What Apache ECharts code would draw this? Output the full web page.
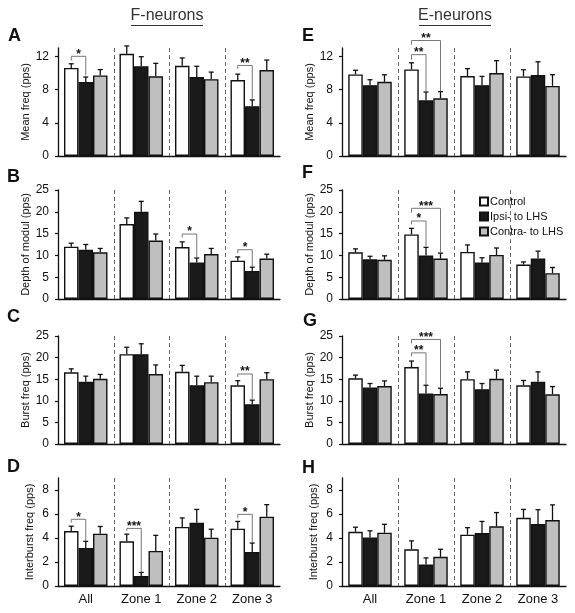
<!DOCTYPE html>
<html><head><meta charset="utf-8">
<script src="https://cdn.jsdelivr.net/npm/echarts@6/dist/echarts.min.js"></script>
<style>html,body{margin:0;padding:0;background:#fff}#c{width:575px;height:613px}</style>
</head><body><div id="c"></div>
<script>
// ---- data ----
const categories = ['All', 'Zone 1', 'Zone 2', 'Zone 3'];
const groupNames = ['Control', 'Ipsi- to LHS', 'Contra- to LHS'];
const yTicksMean = [0, 4, 8, 12];
const yTicks25 = [0, 5, 10, 15, 20, 25];
const yTicksInter = [0, 2, 4, 6, 8];

// F-neurons
const fMean     = [[10.6, 12.3, 10.85, 9.15], [8.9, 10.8, 9.5, 6.0], [9.7, 9.6, 9.25, 10.35]];
const fMeanSem  = [[0.5, 0.95, 0.95, 0.7], [0.6, 1.15, 1.3, 0.75], [0.7, 1.55, 0.85, 1.2]];
const fDepth    = [[12.0, 17.2, 11.9, 8.8], [11.3, 20.0, 8.4, 6.45], [10.7, 13.4, 10.3, 9.27]];
const fDepthSem = [[0.8, 1.4, 1.2, 0.85], [1.2, 2.4, 1.0, 0.85], [0.9, 1.5, 1.3, 1.0]];
const fBurst    = [[16.6, 20.8, 16.7, 13.6], [14.4, 20.8, 13.6, 9.2], [15.1, 16.2, 14.3, 15.0]];
const fBurstSem = [[0.8, 1.6, 1.5, 1.05], [1.3, 2.4, 2.1, 0.95], [1.0, 2.1, 1.4, 1.5]];
const fInter    = [[4.58, 3.72, 4.92, 4.78], [3.17, 0.83, 5.28, 2.83], [4.36, 2.92, 4.03, 5.78]];
const fInterSem = [[0.4, 0.6, 0.75, 0.6], [0.55, 0.3, 1.1, 0.75], [0.6, 1.3, 0.7, 1.0]];
// E-neurons
const eMean     = [[9.82, 10.42, 9.62, 9.58], [8.53, 6.7, 8.53, 9.74], [8.93, 6.95, 9.98, 8.44]];
const eMeanSem  = [[0.5, 0.8, 0.9, 0.8], [0.65, 1.0, 1.05, 1.6], [0.85, 0.8, 1.5, 1.35]];
const eDepth    = [[10.7, 14.8, 10.8, 7.9], [9.1, 9.95, 8.36, 9.27], [9.0, 9.27, 10.1, 5.93]];
const eDepthSem = [[0.8, 1.4, 1.6, 0.6], [0.7, 1.9, 1.1, 1.7], [0.9, 1.25, 1.6, 1.3]];
const eBurst    = [[15.2, 17.8, 15.0, 13.6], [13.1, 11.7, 12.7, 14.4], [13.4, 11.55, 15.1, 11.5]];
const eBurstSem = [[0.75, 1.4, 1.7, 1.1], [0.9, 1.9, 1.3, 2.3], [1.2, 1.35, 2.0, 1.8]];
const eInter    = [[4.52, 3.06, 4.28, 5.68], [4.05, 1.79, 4.41, 5.16], [4.44, 2.43, 4.97, 5.49]];
const eInterSem = [[0.38, 0.7, 0.58, 0.7], [0.55, 0.55, 0.97, 1.2], [0.7, 0.63, 1.15, 1.27]];

// significance brackets: [category, fromGroup, toGroup, bracketLevel, leftLegEnd, rightLegEnd]
const sigA = [[0, 0, 1, 12.0, 11.5, 9.7], [3, 0, 1, 10.9, 10.5, 6.9]];
const starsA = ['*', '**'];
const sigB = [[2, 0, 1, 14.9, 14.1, 9.6], [3, 0, 1, 11.3, 10.5, 7.5]];
const starsB = ['*', '*'];
const sigC = [[3, 0, 1, 16.2, 15.5, 10.3]];
const starsC = ['**'];
const sigD = [[0, 0, 1, 5.56, 5.28, 3.78], [1, 0, 1, 4.8, 4.58, 1.14], [3, 0, 1, 5.97, 5.64, 3.64]];
const starsD = ['*', '***', '*'];
const sigE = [[1, 0, 1, 12.2, 11.6, 7.8], [1, 0, 2, 13.9, 13.4, 7.8]];
const starsE = ['**', '**'];
const sigF = [[1, 0, 1, 17.9, 17.1, 12.1], [1, 0, 2, 20.8, 19.8, 10.7]];
const starsF = ['*', '***'];
const sigG = [[1, 0, 1, 21.1, 20.3, 13.7], [1, 0, 2, 24.2, 23.3, 13.1]];
const starsG = ['**', '***'];
const sigH = [];
const starsH = [];

// ---- layout ----
const FONT = '"Liberation Sans", Arial, Helvetica, sans-serif';
const BAR_W = 14.5;
const fills = ['#ffffff', '#1a1a1a', '#bfbfbf'];
const panels = [
  {L:'A', g:{left:58, top:48, width:222, height:108}, max:13, ticks:yTicksMean, name:'Mean freq (pps)', v:fMean, s:fMeanSem, sig:sigA, st:starsA, xl:false, lx:8, ly:37},
  {L:'B', g:{left:58, top:190, width:222, height:109}, max:25, ticks:yTicks25, name:'Depth of modul (pps)', v:fDepth, s:fDepthSem, sig:sigB, st:starsB, xl:false, lx:7, ly:178},
  {L:'C', g:{left:58, top:336, width:222, height:108}, max:25, ticks:yTicks25, name:'Burst freq (pps)', v:fBurst, s:fBurstSem, sig:sigC, st:starsC, xl:false, lx:7, ly:318},
  {L:'D', g:{left:58, top:478, width:222, height:108}, max:9, ticks:yTicksInter, name:'Interburst freq (pps)', v:fInter, s:fInterSem, sig:sigD, st:starsD, xl:true, lx:7, ly:468},
  {L:'E', g:{left:342, top:48, width:224, height:108}, max:13, ticks:yTicksMean, name:'Mean freq (pps)', v:eMean, s:eMeanSem, sig:sigE, st:starsE, xl:false, lx:302, ly:37},
  {L:'F', g:{left:342, top:190, width:224, height:109}, max:25, ticks:yTicks25, name:'Depth of modul (pps)', v:eDepth, s:eDepthSem, sig:sigF, st:starsF, xl:false, lx:302, ly:174},
  {L:'G', g:{left:342, top:336, width:224, height:108}, max:25, ticks:yTicks25, name:'Burst freq (pps)', v:eBurst, s:eBurstSem, sig:sigG, st:starsG, xl:false, lx:303, ly:322},
  {L:'H', g:{left:342, top:478, width:224, height:108}, max:9, ticks:yTicksInter, name:'Interburst freq (pps)', v:eInter, s:eInterSem, sig:sigH, st:starsH, xl:true, lx:302, ly:469}
];

const grid = [], xAxis = [], yAxis = [], series = [], graphic = [];
panels.forEach((p, i) => {
  grid.push(Object.assign({containLabel:false}, p.g));
  xAxis.push({
    type:'category', gridIndex:i, data:categories, boundaryGap:true,
    axisLine:{lineStyle:{color:'#111', width:1.3}},
    axisTick:{show:false},
    axisLabel:{show:p.xl, color:'#111', fontSize:13, fontFamily:FONT, margin:7},
    splitLine:{show:false}
  });
  yAxis.push({
    type:'value', gridIndex:i, min:0, max:p.max,
    name:p.name, nameLocation:'middle', nameGap:23,
    nameTextStyle:{color:'#111', fontSize:11, fontFamily:FONT},
    axisLine:{show:true, lineStyle:{color:'#111', width:1.3}},
    axisTick:{show:true, length:3, customValues:p.ticks, lineStyle:{color:'#111', width:1.2}},
    axisLabel:{color:'#111', fontSize:12, fontFamily:FONT, margin:9, customValues:p.ticks},
    splitLine:{show:false}
  });
  // bars
  for (let k = 0; k < 3; k++) {
    series.push({
      type:'bar', name:groupNames[k], xAxisIndex:i, yAxisIndex:i,
      data:p.v[k], barWidth:BAR_W, barGap:'0%',
      itemStyle:{color:fills[k], borderColor:'#111', borderWidth:1.4},
      emphasis:{disabled:true}, silent:true, z:2
    });
  }
  // error bars + group separators
  const ed = [];
  for (let k = 0; k < 3; k++) for (let c = 0; c < categories.length; c++) ed.push([c, k, p.v[k][c], p.s[k][c]]);
  series.push({
    type:'custom', xAxisIndex:i, yAxisIndex:i, data:ed, encode:{x:0, y:2}, silent:true, z:3, clip:false,
    renderItem:(params, api) => {
      const c = api.value(0), k = api.value(1), m = api.value(2), e = api.value(3);
      const b = api.coord([c, m]), t = api.coord([c, m + e]);
      const x = b[0] + (k - 1) * BAR_W;
      const ch = [
        {type:'line', shape:{x1:x, y1:b[1], x2:x, y2:t[1]}, style:{stroke:'#111', lineWidth:1.3}},
        {type:'line', shape:{x1:x - 2.5, y1:t[1], x2:x + 2.5, y2:t[1]}, style:{stroke:'#111', lineWidth:1.3}}
      ];
      if (k === 0 && c > 0) {
        const cs = params.coordSys;
        const bx = Math.round(b[0] - api.size([1, 0])[0] / 2) + 0.5;
        ch.push({type:'line', shape:{x1:bx, y1:cs.y, x2:bx, y2:cs.y + cs.height}, style:{stroke:'#666', lineWidth:1, lineDash:[4, 3]}});
      }
      return {type:'group', children:ch};
    }
  });
  // significance brackets
  if (p.sig.length) {
    const stars = p.st;
    series.push({
      type:'custom', xAxisIndex:i, yAxisIndex:i, data:p.sig, encode:{x:0, y:3}, silent:true, z:4, clip:false,
      renderItem:(params, api) => {
        const c = api.value(0), a = api.value(1), bb = api.value(2);
        const top = api.coord([c, api.value(3)]);
        const xa = top[0] + (a - 1) * BAR_W, xb = top[0] + (bb - 1) * BAR_W;
        const yl = api.coord([c, api.value(4)])[1], yr = api.coord([c, api.value(5)])[1];
        return {type:'group', children:[
          {type:'polyline', shape:{points:[[xa, yl], [xa, top[1]], [xb, top[1]], [xb, yr]]}, style:{stroke:'#777', lineWidth:1, fill:null}},
          {type:'text', x:(xa + xb) / 2, y:top[1] - 2, style:{text:stars[params.dataIndex], textAlign:'center', textVerticalAlign:'middle', font:'bold 12px ' + FONT, fill:'#111'}}
        ]};
      }
    });
  }
  graphic.push({type:'text', left:p.lx, top:p.ly - 10, style:{text:p.L, font:'bold 18px ' + FONT, fill:'#111'}});
});

graphic.push({type:'text', x:167, y:16, style:{text:'F-neurons', font:'16px ' + FONT, fill:'#333', textAlign:'center', textVerticalAlign:'middle'}});
graphic.push({type:'line', shape:{x1:131, y1:25.5, x2:203, y2:25.5}, style:{stroke:'#333', lineWidth:1}});
graphic.push({type:'text', x:455, y:16, style:{text:'E-neurons', font:'16px ' + FONT, fill:'#333', textAlign:'center', textVerticalAlign:'middle'}});
graphic.push({type:'line', shape:{x1:419, y1:25.5, x2:491, y2:25.5}, style:{stroke:'#333', lineWidth:1}});

const chart = echarts.init(document.getElementById('c'), null, {renderer:'canvas'});
chart.setOption({
  animation:false,
  backgroundColor:'#fff',
  grid, xAxis, yAxis, series, graphic,
  legend:{
    data:groupNames, orient:'vertical', left:479, top:196, icon:'rect', padding:0,
    itemWidth:8, itemHeight:8, itemGap:4, selectedMode:false,
    textStyle:{fontSize:11, fontFamily:FONT, color:'#111', padding:[0, 0, 0, -3]}
  }
});
</script>
</body></html>
